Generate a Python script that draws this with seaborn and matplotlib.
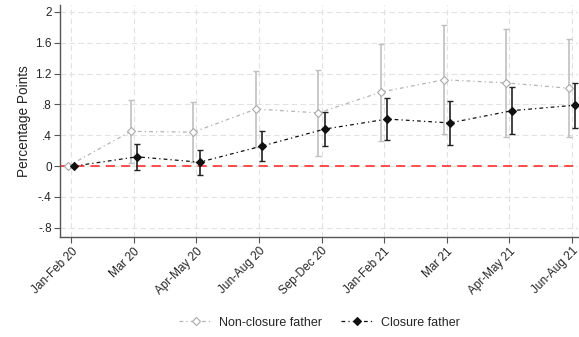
import numpy as np
import pandas as pd
import matplotlib
matplotlib.use("Agg")
import matplotlib.pyplot as plt
import seaborn as sns

periods = ["Jan-Feb 20", "Mar 20", "Apr-May 20", "Jun-Aug 20", "Sep-Dec 20",
           "Jan-Feb 21", "Mar 21", "Apr-May 21", "Jun-Aug 21"]

nonclosure_est = [0.0, 0.45, 0.44, 0.74, 0.69, 0.96, 1.12, 1.08, 1.01]
nonclosure_lo = [0.0, 0.04, 0.05, 0.25, 0.13, 0.32, 0.42, 0.38, 0.38]
nonclosure_hi = [0.0, 0.86, 0.83, 1.24, 1.25, 1.59, 1.83, 1.78, 1.65]

closure_est = [0.0, 0.12, 0.05, 0.26, 0.48, 0.61, 0.56, 0.72, 0.79]
closure_lo = [0.0, -0.05, -0.11, 0.07, 0.26, 0.34, 0.27, 0.42, 0.49]
closure_hi = [0.0, 0.29, 0.21, 0.45, 0.70, 0.88, 0.85, 1.02, 1.08]

yticks = [-0.8, -0.4, 0, 0.4, 0.8, 1.2, 1.6, 2.0]
ytick_labels = ["-.8", "-.4", "0", ".4", ".8", "1.2", "1.6", "2"]

sns.set_theme(style="white")
plt.rcParams["font.family"] = ["Liberation Sans", "DejaVu Sans"]

fig = plt.figure(figsize=(5.79, 3.37), dpi=100)
ax = fig.add_axes([0.1036, 0.297, 0.895, 0.688])

pos = np.arange(len(periods))
df = pd.DataFrame({
    "x": np.concatenate([pos - 0.05, pos + 0.05]),
    "est": nonclosure_est + closure_est,
    "lo": nonclosure_lo + closure_lo,
    "hi": nonclosure_hi + closure_hi,
    "group": ["Non-closure father"] * len(pos) + ["Closure father"] * len(pos),
})

styles = {
    "Non-closure father": dict(color="#b4b4b4", ecolor="#c0c0c0", mfc="white",
                               mec="#aaaaaa", dashes=(3, 2.5, 1, 2.5), lw=0.9),
    "Closure father": dict(color="#111111", ecolor="#222222", mfc="#111111",
                           mec="#111111", dashes=(3, 2.5, 1, 2.5), lw=0.9),
}

# zero reference line
ax.axhline(0, color="#ff2020", lw=1.1, ls=(0, (6, 4)), zorder=1)

handles = []
for name in ["Non-closure father", "Closure father"]:
    sub = df[df["group"] == name]
    st = styles[name]
    ax.errorbar(sub["x"], sub["est"],
                yerr=[sub["est"] - sub["lo"], sub["hi"] - sub["est"]],
                fmt="none", ecolor=st["ecolor"], elinewidth=1.2, capsize=2.5,
                capthick=1.0, zorder=2)
    sns.lineplot(data=sub, x="x", y="est", ax=ax, color=st["color"], lw=st["lw"],
                 marker="D", markersize=4, markerfacecolor=st["mfc"],
                 markeredgecolor=st["mec"], markeredgewidth=0.8,
                 dashes=False, legend=False, zorder=3)
    line = ax.lines[-1]
    line.set_dashes(st["dashes"])
    line.set_label(name)
    handles.append(line)

ax.set_xlim(-0.18, 8.1)
ax.set_ylim(-0.92, 2.09)
ax.set_xticks(pos)
ax.set_xticklabels(periods, rotation=45, ha="right", rotation_mode="anchor", fontsize=8.5)
ax.set_yticks(yticks)
ax.set_yticklabels(ytick_labels, fontsize=8.5)
ax.set_xlabel("")
ax.set_ylabel("Percentage Points", fontsize=9.8, labelpad=3)

ax.grid(True, color="#e2e2e2", ls=(0, (5, 3)), lw=0.8)
ax.set_axisbelow(True)
for s in ["top", "right"]:
    ax.spines[s].set_visible(False)
for s in ["left", "bottom"]:
    ax.spines[s].set_color("#555555")
    ax.spines[s].set_linewidth(1.0)
ax.tick_params(axis="both", length=4, width=0.8, color="#555555", bottom=True, left=True, pad=2)

fig.legend(handles, [h.get_label() for h in handles], loc="center",
           bbox_to_anchor=(0.552, 0.042), ncol=2, frameon=False, fontsize=9,
           handlelength=2.6, handletextpad=0.6, columnspacing=1.5)

fig.savefig("out.png", dpi=100)
